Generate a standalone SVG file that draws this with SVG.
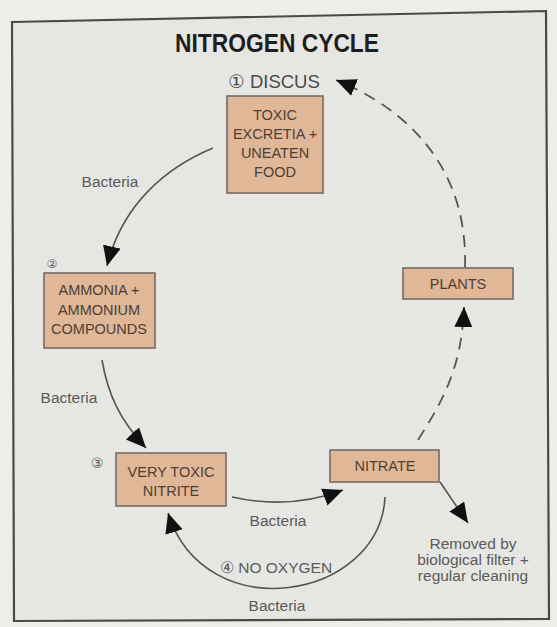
<svg xmlns="http://www.w3.org/2000/svg" width="557" height="627" viewBox="0 0 557 627">
<defs>
<style>
.box{fill:#e0b797;stroke:#756b62;stroke-width:1.6}
.bt{font-family:"Liberation Sans",Arial,sans-serif;font-size:14.5px;fill:#4d3f36;text-anchor:middle}
.lbl{font-family:"Liberation Sans",Arial,sans-serif;font-size:15.5px;fill:#5a5a5a;text-anchor:middle}
.num{font-family:"DejaVu Sans",sans-serif;fill:#5a5a5a;text-anchor:middle}
.arc{fill:none;stroke:#555;stroke-width:1.6}
.dash{fill:none;stroke:#555;stroke-width:1.8;stroke-dasharray:12 8}
</style>
<marker id="ah" markerUnits="userSpaceOnUse" markerWidth="22" markerHeight="20" refX="20" refY="9" orient="auto">
<path d="M0,0 L20,9 L0,18 z" fill="#111"/>
</marker>
</defs>
<rect x="0" y="0" width="557" height="627" fill="#eeede9"/>
<polygon points="12,22 546,11 549,619 14,621" fill="#e6e7e3" stroke="#4a4a4a" stroke-width="2.2"/>
<text x="277" y="52" font-family="Liberation Sans,Arial,sans-serif" font-size="25" font-weight="bold" fill="#1e1e1e" text-anchor="middle" textLength="204" lengthAdjust="spacingAndGlyphs">NITROGEN CYCLE</text>
<g id="discus">
<text x="274" y="88" font-family="Liberation Sans,'DejaVu Sans',sans-serif" font-size="18.5" fill="#4a4a4a" text-anchor="middle">① DISCUS</text>
</g>
<g id="toxic">
<rect class="box" x="227" y="96" width="96" height="97"/>
<text class="bt" x="275" y="120">TOXIC</text>
<text class="bt" x="275" y="139">EXCRETIA +</text>
<text class="bt" x="275" y="158">UNEATEN</text>
<text class="bt" x="275" y="177">FOOD</text>
</g>
<g id="ammonia">
<text class="num" x="52" y="268" font-size="12">②</text>
<rect class="box" x="44" y="273" width="111" height="75"/>
<text class="bt" x="99" y="295">AMMONIA +</text>
<text class="bt" x="99" y="315">AMMONIUM</text>
<text class="bt" x="99" y="334">COMPOUNDS</text>
</g>
<g id="nitrite">
<text class="num" x="97" y="468" font-size="14">③</text>
<rect class="box" x="116" y="453" width="110" height="53"/>
<text class="bt" x="171" y="477">VERY TOXIC</text>
<text class="bt" x="171" y="496">NITRITE</text>
</g>
<g id="nitrate">
<rect class="box" x="330" y="450" width="109" height="32"/>
<text class="bt" x="385" y="471">NITRATE</text>
</g>
<g id="plants">
<rect class="box" x="403" y="268" width="110" height="31"/>
<text class="bt" x="458" y="289">PLANTS</text>
</g>
<g id="removed">
<text class="lbl" x="473" y="549">Removed by</text>
<text class="lbl" x="473" y="565">biological filter +</text>
<text class="lbl" x="473" y="581">regular cleaning</text>
</g>
<g id="connectors">
<path class="arc" d="M213,148 C165,168 122,205 107,266" marker-end="url(#ah)"/>
<path class="arc" d="M102,360 C108,395 120,420 146,448" marker-end="url(#ah)"/>
<path class="arc" d="M232,497 Q290,510 343,490" marker-end="url(#ah)"/>
<path class="arc" d="M385,497 C380,600 205,630 168,513" marker-end="url(#ah)"/>
<path class="arc" d="M440,482 L468,523" marker-end="url(#ah)"/>
<path class="dash" d="M418,440 C440,405 462,370 464,307" marker-end="url(#ah)"/>
<path class="dash" d="M465,267 C468,170 410,110 336,80" marker-end="url(#ah)"/>
<text class="lbl" x="110" y="187">Bacteria</text>
<text class="lbl" x="69" y="403">Bacteria</text>
<text class="lbl" x="278" y="526">Bacteria</text>
<text class="lbl" x="276" y="573" font-size="15">④ NO OXYGEN</text>
<text class="lbl" x="277" y="611">Bacteria</text>
</g>
</svg>
